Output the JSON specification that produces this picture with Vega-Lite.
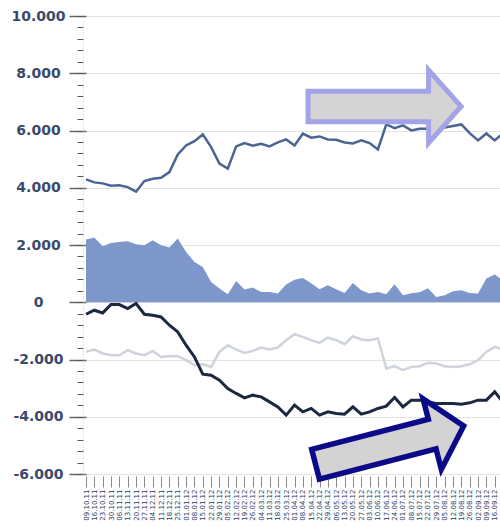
{
  "$schema": "https://vega.github.io/schema/vega-lite/v6.json",
  "width": 417,
  "height": 458,
  "autosize": {"type": "none"},
  "padding": {"left": 86, "top": 16, "right": 0, "bottom": 52},
  "background": "white",
  "config": {"view": {"stroke": null}},
  "datasets": {
    "main": [
      {"date": "2011-10-09T00:00:00", "top": 4293, "area": 2188, "navy": -419, "gray": -1734},
      {"date": "2011-10-16T00:00:00", "top": 4188, "area": 2258, "navy": -279, "gray": -1651},
      {"date": "2011-10-23T00:00:00", "top": 4153, "area": 1954, "navy": -373, "gray": -1790},
      {"date": "2011-10-30T00:00:00", "top": 4073, "area": 2070, "navy": -80, "gray": -1850},
      {"date": "2011-11-06T00:00:00", "top": 4083, "area": 2105, "navy": -80, "gray": -1850},
      {"date": "2011-11-13T00:00:00", "top": 4024, "area": 2129, "navy": -220, "gray": -1675},
      {"date": "2011-11-20T00:00:00", "top": 3863, "area": 2024, "navy": -45, "gray": -1790},
      {"date": "2011-11-27T00:00:00", "top": 4233, "area": 1989, "navy": -419, "gray": -1850},
      {"date": "2011-12-04T00:00:00", "top": 4317, "area": 2164, "navy": -454, "gray": -1700},
      {"date": "2011-12-11T00:00:00", "top": 4352, "area": 1989, "navy": -513, "gray": -1909},
      {"date": "2011-12-18T00:00:00", "top": 4548, "area": 1909, "navy": -803, "gray": -1885},
      {"date": "2011-12-25T00:00:00", "top": 5165, "area": 2223, "navy": -1037, "gray": -1885},
      {"date": "2012-01-01T00:00:00", "top": 5479, "area": 1755, "navy": -1501, "gray": -2024},
      {"date": "2012-01-08T00:00:00", "top": 5629, "area": 1406, "navy": -1909, "gray": -2199},
      {"date": "2012-01-15T00:00:00", "top": 5863, "area": 1232, "navy": -2513, "gray": -2164},
      {"date": "2012-01-22T00:00:00", "top": 5420, "area": 708, "navy": -2548, "gray": -2258},
      {"date": "2012-01-29T00:00:00", "top": 4841, "area": 478, "navy": -2722, "gray": -1734},
      {"date": "2012-02-05T00:00:00", "top": 4666, "area": 279, "navy": -3012, "gray": -1501},
      {"date": "2012-02-12T00:00:00", "top": 5444, "area": 743, "navy": -3186, "gray": -1651},
      {"date": "2012-02-19T00:00:00", "top": 5560, "area": 443, "navy": -3340, "gray": -1769},
      {"date": "2012-02-26T00:00:00", "top": 5470, "area": 513, "navy": -3246, "gray": -1700},
      {"date": "2012-03-04T00:00:00", "top": 5539, "area": 359, "navy": -3305, "gray": -1581},
      {"date": "2012-03-11T00:00:00", "top": 5444, "area": 359, "navy": -3480, "gray": -1651},
      {"date": "2012-03-18T00:00:00", "top": 5584, "area": 304, "navy": -3654, "gray": -1581},
      {"date": "2012-03-25T00:00:00", "top": 5689, "area": 620, "navy": -3944, "gray": -1326},
      {"date": "2012-04-01T00:00:00", "top": 5479, "area": 790, "navy": -3595, "gray": -1117},
      {"date": "2012-04-08T00:00:00", "top": 5888, "area": 850, "navy": -3829, "gray": -1211},
      {"date": "2012-04-15T00:00:00", "top": 5748, "area": 663, "navy": -3710, "gray": -1326},
      {"date": "2012-04-22T00:00:00", "top": 5793, "area": 454, "navy": -3944, "gray": -1420},
      {"date": "2012-04-29T00:00:00", "top": 5689, "area": 593, "navy": -3829, "gray": -1232},
      {"date": "2012-05-06T00:00:00", "top": 5678, "area": 454, "navy": -3884, "gray": -1326},
      {"date": "2012-05-13T00:00:00", "top": 5584, "area": 325, "navy": -3909, "gray": -1466},
      {"date": "2012-05-20T00:00:00", "top": 5549, "area": 674, "navy": -3654, "gray": -1187},
      {"date": "2012-05-27T00:00:00", "top": 5654, "area": 419, "navy": -3909, "gray": -1302},
      {"date": "2012-06-03T00:00:00", "top": 5560, "area": 304, "navy": -3829, "gray": -1326},
      {"date": "2012-06-10T00:00:00", "top": 5340, "area": 359, "navy": -3710, "gray": -1267},
      {"date": "2012-06-17T00:00:00", "top": 6212, "area": 279, "navy": -3630, "gray": -2314},
      {"date": "2012-06-24T00:00:00", "top": 6083, "area": 628, "navy": -3326, "gray": -2234},
      {"date": "2012-07-01T00:00:00", "top": 6177, "area": 244, "navy": -3654, "gray": -2373},
      {"date": "2012-07-08T00:00:00", "top": 6003, "area": 314, "navy": -3420, "gray": -2258},
      {"date": "2012-07-15T00:00:00", "top": 6062, "area": 349, "navy": -3420, "gray": -2234},
      {"date": "2012-07-22T00:00:00", "top": 6062, "area": 489, "navy": -3480, "gray": -2118},
      {"date": "2012-07-29T00:00:00", "top": 6038, "area": 185, "navy": -3535, "gray": -2139},
      {"date": "2012-08-05T00:00:00", "top": 6108, "area": 244, "navy": -3535, "gray": -2234},
      {"date": "2012-08-12T00:00:00", "top": 6160, "area": 384, "navy": -3535, "gray": -2258},
      {"date": "2012-08-19T00:00:00", "top": 6212, "area": 419, "navy": -3560, "gray": -2234},
      {"date": "2012-08-26T00:00:00", "top": 5909, "area": 325, "navy": -3514, "gray": -2164},
      {"date": "2012-09-02T00:00:00", "top": 5654, "area": 304, "navy": -3420, "gray": -2024},
      {"date": "2012-09-09T00:00:00", "top": 5898, "area": 827, "navy": -3420, "gray": -1734},
      {"date": "2012-09-16T00:00:00", "top": 5654, "area": 967, "navy": -3130, "gray": -1560},
      {"date": "2012-09-23T00:00:00", "top": 5898, "area": 768, "navy": -3490, "gray": -1651}
    ]
  },
  "layer": [
    {
      "data": {"name": "main"},
      "mark": {"type": "area", "color": "#7d97ca", "opacity": 1},
      "encoding": {
        "x": {
          "field": "date", "type": "temporal",
          "scale": {"domain": [{"year": 2011, "month": 10, "date": 9}, {"year": 2012, "month": 9, "date": 22, "hours": 23}], "nice": false},
          "axis": {
            "title": null, "tickCount": {"interval": "week", "step": 1}, "format": "%d.%m.%y",
            "labelAngle": 270, "labelFontSize": 7, "labelFont": "DejaVu Sans", "labelColor": "#2a3a66",
            "tickSize": 11, "tickColor": "#8a8a8a", "tickWidth": 1, "offset": 2, "domain": false, "grid": false,
            "labelOverlap": false, "labelPadding": 2, "labelFlush": false, "labelBound": false
          }
        },
        "y": {
          "field": "area", "type": "quantitative",
          "scale": {"domain": [-6000, 10000], "nice": false, "zero": false},
          "axis": {
            "orient": "left", "title": null,
            "values": [-6000, -4000, -2000, 0, 2000, 4000, 6000, 8000, 10000],
            "labelExpr": "(datum.value < 0 ? '-' : '') + replace(format(abs(datum.value), ','), ',', '.')",
            "labelAlign": "center", "labelPadding": 31, "labelBaseline": "middle",
            "labelFont": "DejaVu Sans", "labelFontWeight": "bold", "labelFontSize": 14, "labelColor": "#3b4a6b",
            "tickSize": 17, "tickColor": "#666666", "tickWidth": 1.5,
            "domain": false, "grid": true, "gridColor": "#e3e3e3", "gridWidth": 1
          }
        }
      }
    },
    {
      "data": {"name": "main"},
      "mark": {"type": "line", "color": "#cfd3dc", "strokeWidth": 2.5},
      "encoding": {
        "x": {"field": "date", "type": "temporal"},
        "y": {
          "field": "gray", "type": "quantitative",
          "axis": {
            "orient": "left", "title": null, "labels": false, "grid": false,
            "values": [-6000, -5600, -5200, -4800, -4400, -4000, -3600, -3200, -2800, -2400, -2000, -1600, -1200, -800, -400, 0, 400, 800, 1200, 1600, 2000, 2400, 2800, 3200, 3600, 4000, 4400, 4800, 5200, 5600, 6000, 6400, 6800, 7200, 7600, 8000, 8400, 8800, 9200, 9600, 10000],
            "tickSize": 6, "tickColor": "#555555", "tickWidth": 1, "offset": 3,
            "domain": true, "domainColor": "#c8c8c8", "domainDash": [1, 2]
          }
        }
      }
    },
    {
      "data": {"name": "main"},
      "mark": {"type": "line", "color": "#1c2742", "strokeWidth": 3},
      "encoding": {
        "x": {"field": "date", "type": "temporal"},
        "y": {"field": "navy", "type": "quantitative", "axis": null}
      }
    },
    {
      "data": {"name": "main"},
      "mark": {"type": "line", "color": "#4b6593", "strokeWidth": 2.5},
      "encoding": {
        "x": {"field": "date", "type": "temporal"},
        "y": {"field": "top", "type": "quantitative", "axis": null}
      }
    },
    {
      "data": {"values": [{"date": "2012-06-15T14:00:00", "value": 6840}]},
      "mark": {
        "type": "point", "filled": true, "opacity": 1,
        "shape": "M-1,-0.2L0.575,-0.2L0.575,-0.477L1,0L0.575,0.477L0.575,0.2L-1,0.2Z",
        "size": 23409, "fill": "#d4d4d4", "stroke": "#a3a3e8", "strokeWidth": 5, "strokeJoin": "miter", "strokeOpacity": 1, "fillOpacity": 1
      },
      "encoding": {
        "x": {"field": "date", "type": "temporal"},
        "y": {"field": "value", "type": "quantitative", "axis": null}
      }
    },
    {
      "data": {"values": [{"date": "2012-06-19T19:00:00", "value": -4990}]},
      "mark": {
        "type": "point", "filled": true, "opacity": 1, "angle": 345.5,
        "shape": "M-1,-0.2L0.575,-0.2L0.575,-0.477L1,0L0.575,0.477L0.575,0.2L-1,0.2Z",
        "size": 23409, "fill": "#d3d3d3", "stroke": "#0b0b8a", "strokeWidth": 5.5, "strokeJoin": "miter", "strokeOpacity": 1, "fillOpacity": 1
      },
      "encoding": {
        "x": {"field": "date", "type": "temporal"},
        "y": {"field": "value", "type": "quantitative", "axis": null}
      }
    }
  ],
  "resolve": {"axis": {"y": "independent"}}
}
